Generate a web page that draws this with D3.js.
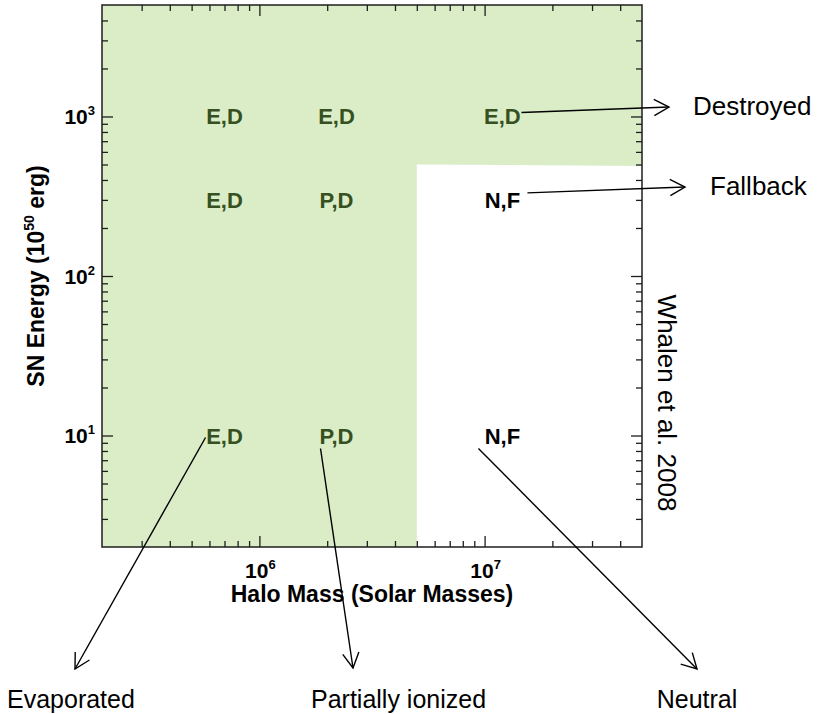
<!DOCTYPE html>
<html>
<head>
<meta charset="utf-8">
<script src="https://cdn.jsdelivr.net/npm/d3@7"></script>
<style>
  body { margin: 0; background: #fff; }
  svg { display: block; font-family: "Liberation Sans", Arial, sans-serif; }
</style>
</head>
<body>
<svg id="chart" width="828" height="714"></svg>
<script>
// Axis domains (halo mass in solar masses, SN energy in 1e50 erg)
const massDomain = [2e5, 5e7];
const energyDomain = [2, 5000];

// Major ticks and their exponents
const massMajorTicks = [1e6, 1e7];
const massMajorExponents = ["6", "7"];
const energyMajorTicks = [10, 100, 1000];
const energyMajorExponents = ["1", "2", "3"];

// Minor ticks
const massMinorTicks = [3e5, 4e5, 5e5, 6e5, 7e5, 8e5, 9e5,
                        2e6, 3e6, 4e6, 5e6, 6e6, 7e6, 8e6, 9e6,
                        2e7, 3e7, 4e7];
const energyMinorTicks = [3, 4, 5, 6, 7, 8, 9,
                          20, 30, 40, 50, 60, 70, 80, 90,
                          200, 300, 400, 500, 600, 700, 800, 900,
                          2000, 3000, 4000];

// Edge of the region where the halo gas falls back (shaded area is everything else)
const fallbackMass = [5e6, 5e7];
const fallbackEnergy = [500, 490];

// Grid of simulated halos and their outcome codes
const cellMasses = [7e5, 2.2e6, 1.2e7];
const cellEnergies = [1000, 300, 10];
const cellCodes = [
  ["E,D", "E,D", "E,D"],
  ["E,D", "P,D", "N,F"],
  ["E,D", "P,D", "N,F"]
];

// Legend annotations: [row, col] of the code they point from
const noteLabels = ["Destroyed", "Fallback", "Evaporated", "Partially ionized", "Neutral"];
const noteCells = [[0, 2], [1, 2], [2, 0], [2, 1], [2, 2]];

const credit = "Whalen et al. 2008";

// ---------------------------------------------------------------
const svg = d3.select("#chart");
const plotLeft = 102, plotRight = 642, plotTop = 5, plotBottom = 547;

const x = d3.scaleLog().domain(massDomain).range([plotLeft, plotRight]);
const y = d3.scaleLog().domain(energyDomain).range([plotBottom, plotTop]);

const green = "#daedc7";
const darkGreen = "#36501f";
const axisColor = "#1e1e1e";

// Shaded region
const regionPts = [
  [massDomain[0], energyDomain[0]],
  [massDomain[0], energyDomain[1]],
  [massDomain[1], energyDomain[1]],
  [fallbackMass[1], fallbackEnergy[1]],
  [fallbackMass[0], fallbackEnergy[0]],
  [fallbackMass[0], energyDomain[0]]
];
svg.append("path")
  .attr("d", d3.line().x(d => x(d[0])).y(d => y(d[1]))(regionPts) + "Z")
  .attr("fill", green);

// Ticks on all four sides, pointing inward
function drawTicks() {
  [[massMinorTicks, 6], [massMajorTicks, 11]].forEach(([vals, s]) => {
    [[d3.axisBottom(x), plotBottom], [d3.axisTop(x), plotTop]].forEach(([ax, pos]) => {
      const g = svg.append("g").attr("transform", `translate(0,${pos})`)
        .call(ax.tickValues(vals).tickSize(-s).tickSizeOuter(0).tickFormat(() => ""));
      g.select(".domain").remove();
      g.selectAll("line").attr("stroke", axisColor).attr("stroke-width", 1.3);
    });
  });
  [[energyMinorTicks, 6], [energyMajorTicks, 11]].forEach(([vals, s]) => {
    [[d3.axisLeft(y), plotLeft], [d3.axisRight(y), plotRight]].forEach(([ax, pos]) => {
      const g = svg.append("g").attr("transform", `translate(${pos},0)`)
        .call(ax.tickValues(vals).tickSize(-s).tickSizeOuter(0).tickFormat(() => ""));
      g.select(".domain").remove();
      g.selectAll("line").attr("stroke", axisColor).attr("stroke-width", 1.3);
    });
  });
}
drawTicks();

// Frame
svg.append("rect")
  .attr("x", plotLeft).attr("y", plotTop)
  .attr("width", plotRight - plotLeft).attr("height", plotBottom - plotTop)
  .attr("fill", "none").attr("stroke", axisColor).attr("stroke-width", 1.5);

// Tick labels (10^n)
massMajorTicks.forEach((v, i) => {
  const t = svg.append("text")
    .attr("x", x(v) + 1).attr("y", plotBottom + 31)
    .attr("text-anchor", "middle")
    .attr("font-size", 21).attr("font-weight", "bold").attr("fill", "#000");
  t.append("tspan").text("10");
  t.append("tspan").attr("font-size", 13).attr("dy", -9).text(massMajorExponents[i]);
});
energyMajorTicks.forEach((v, i) => {
  const t = svg.append("text")
    .attr("x", plotLeft - 7).attr("y", y(v) + 7.5)
    .attr("text-anchor", "end")
    .attr("font-size", 21).attr("font-weight", "bold").attr("fill", "#000");
  t.append("tspan").text("10");
  t.append("tspan").attr("font-size", 13).attr("dy", -9).text(energyMajorExponents[i]);
});

// Axis titles
svg.append("text")
  .attr("x", (plotLeft + plotRight) / 2).attr("y", 602)
  .attr("text-anchor", "middle")
  .attr("font-size", 23).attr("font-weight", "bold")
  .text("Halo Mass (Solar Masses)");

const yt = svg.append("text")
  .attr("transform", `translate(44,${(plotTop + plotBottom) / 2}) rotate(-90)`)
  .attr("text-anchor", "middle")
  .attr("font-size", 23).attr("font-weight", "bold");
yt.append("tspan").text("SN Energy (10");
yt.append("tspan").attr("font-size", 14).attr("dy", -10).text("50");
yt.append("tspan").attr("dy", 10).text(" erg)");

// Outcome codes
function inShade(m, e) {
  if (m < fallbackMass[0]) return true;
  const f = Math.log10(m / fallbackMass[0]) / Math.log10(fallbackMass[1] / fallbackMass[0]);
  const eb = Math.pow(10, Math.log10(fallbackEnergy[0]) +
    f * (Math.log10(fallbackEnergy[1]) - Math.log10(fallbackEnergy[0])));
  return e > eb;
}
cellEnergies.forEach((e, r) => {
  cellMasses.forEach((m, c) => {
    svg.append("text")
      .attr("x", x(m)).attr("y", y(e) + 8)
      .attr("text-anchor", "middle")
      .attr("font-size", 22).attr("font-weight", "bold")
      .attr("fill", inShade(m, e) ? darkGreen : "#000")
      .text(cellCodes[r][c]);
  });
});

// Annotation arrows: start offset from the code, end point, label position
const noteLayout = [
  { dx: 19, dy: -4, tip: [669, 107], lx: 693, ly: 115, anchor: "start", size: 26 },
  { dx: 25, dy: -7, tip: [685, 187], lx: 710, ly: 195, anchor: "start", size: 26 },
  { dx: -19, dy: 2, tip: [75, 669], lx: 7, ly: 708, anchor: "start", size: 25 },
  { dx: -16, dy: 13, tip: [353, 668], lx: 311, ly: 708, anchor: "start", size: 25 },
  { dx: -24, dy: 13, tip: [697, 669], lx: 697, ly: 708, anchor: "middle", size: 25 }
];

noteLabels.forEach((lab, i) => {
  const [r, c] = noteCells[i];
  const L = noteLayout[i];
  const sx = x(cellMasses[c]) + L.dx, sy = y(cellEnergies[r]) + L.dy;
  const [tx, ty] = L.tip;
  svg.append("line")
    .attr("x1", sx).attr("y1", sy).attr("x2", tx).attr("y2", ty)
    .attr("stroke", "#000").attr("stroke-width", 1.4);
  const ang = Math.atan2(ty - sy, tx - sx);
  const len = 17, spread = 0.5;
  const p1 = [tx - len * Math.cos(ang - spread), ty - len * Math.sin(ang - spread)];
  const p2 = [tx - len * Math.cos(ang + spread), ty - len * Math.sin(ang + spread)];
  svg.append("path")
    .attr("d", `M${p1[0]},${p1[1]}L${tx},${ty}L${p2[0]},${p2[1]}`)
    .attr("fill", "none").attr("stroke", "#000").attr("stroke-width", 1.4);
  svg.append("text")
    .attr("x", L.lx).attr("y", L.ly)
    .attr("text-anchor", L.anchor)
    .attr("font-size", L.size).attr("fill", "#000")
    .text(lab);
});

// Credit line
svg.append("text")
  .attr("transform", `translate(658,403) rotate(90)`)
  .attr("text-anchor", "middle")
  .attr("font-size", 26).attr("fill", "#000")
  .text(credit);
</script>
</body>
</html>
